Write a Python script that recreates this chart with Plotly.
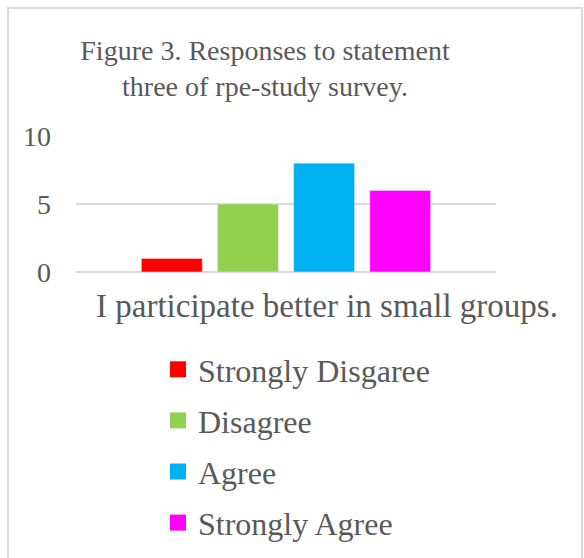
import plotly.graph_objects as go

categories = ["I participate better in small groups."]
series_names = ["Strongly Disgaree", "Disagree", "Agree", "Strongly Agree"]
series_values = [[1], [5], [8], [6]]
series_colors = ["#FF0000", "#92D050", "#00B0F0", "#FF00FF"]
y_ticks = [0, 5, 10]

W, H = 584, 558
L, R, T, B = 76, 88, 136, 286
pw, ph = W - L - R, H - T - B

def px_x(x):
    return (x - L) / pw

def px_y(y):
    return (H - B - y) / ph

fig = go.Figure()
for i, (name, vals, col) in enumerate(zip(series_names, series_values, series_colors)):
    fig.add_trace(go.Bar(x=categories, y=vals, name=name, marker_color=col,
                         legendgroup=f"g{i}", showlegend=False))
    # legend entry with a larger square swatch
    fig.add_trace(go.Scatter(x=[None], y=[None], mode="markers", name=name,
                             marker=dict(symbol="square", size=16, color=col),
                             legendgroup=f"g{i}", showlegend=True, hoverinfo="skip"))

font = dict(family="Liberation Serif, Times New Roman, serif", color="#595959")

fig.update_layout(
    width=W, height=H,
    margin=dict(l=L, r=R, t=T, b=B, autoexpand=False),
    paper_bgcolor="white", plot_bgcolor="white",
    barmode="group", bargap=0.275, bargroupgap=0.2,
    font=dict(**font, size=28),
    title=dict(text="Figure 3. Responses to statement<br>three of rpe-study survey.",
               x=265 / W, xanchor="center", xref="container",
               y=1 - 60 / H, yanchor="top", yref="container",
               font=dict(**font, size=28)),
    xaxis=dict(showgrid=False, showline=False, ticks="", ticklabelshift=41,
               ticklabelstandoff=11, tickfont=dict(**font, size=33)),
    yaxis=dict(range=[0, 10], tickvals=y_ticks, showgrid=True, gridcolor="#D9D9D9",
               gridwidth=1.5, zeroline=True, zerolinecolor="#D9D9D9", zerolinewidth=1.5,
               showline=False, ticks="", ticklabelstandoff=24,
               tickfont=dict(**font, size=28)),
    showlegend=True,
    legend=dict(orientation="v", x=px_x(158), xanchor="left", y=px_y(342), yanchor="top",
                traceorder="grouped", tracegroupgap=6.5, itemsizing="trace",
                font=dict(**font, size=32), bgcolor="rgba(0,0,0,0)"),
    shapes=[dict(type="rect", xref="paper", yref="paper",
                 x0=px_x(8), x1=px_x(582), y0=px_y(8), y1=px_y(562),
                 line=dict(color="#D9D9D9", width=2), fillcolor="rgba(0,0,0,0)",
                 layer="below")],
)

fig.write_html("out.html")
